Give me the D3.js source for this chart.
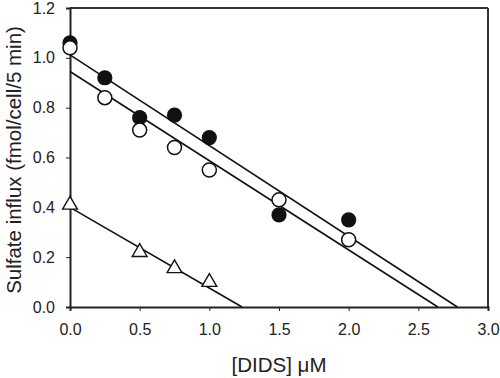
<!DOCTYPE html>
<html>
<head>
<meta charset="utf-8">
<script src="https://cdn.jsdelivr.net/npm/d3@7"></script>
<style>
  body { margin: 0; background: #fff; }
  text { font-family: "Liberation Sans", Arial, sans-serif; fill: #222; }
</style>
</head>
<body>
<svg width="500" height="378"></svg>
<script>
// data
const doses = [0, 0.25, 0.5, 0.75, 1.0, 1.5, 2.0];
const filledVals = [1.06, 0.92, 0.76, 0.77, 0.68, 0.37, 0.35];
const openVals = [1.04, 0.84, 0.71, 0.64, 0.55, 0.43, 0.27];
const triDoses = [0, 0.5, 0.75, 1.0];
const triVals = [0.41, 0.22, 0.155, 0.10];

// fitted lines: [x start, y start, x end, y end]
const filledFit = [0, 1.012, 2.78, 0];
const openFit = [0, 0.945, 2.64, 0];
const triFit = [0, 0.40, 1.235, 0];

const xTicks = [0, 0.5, 1.0, 1.5, 2.0, 2.5, 3.0];
const yTicks = [0, 0.2, 0.4, 0.6, 0.8, 1.0, 1.2];

const margin = { top: 8, right: 12, bottom: 71, left: 70 },
  width = 500 - margin.left - margin.right,
  height = 378 - margin.top - margin.bottom;

const svg = d3.select('svg');
const g = svg.append('g')
  .attr('transform', `translate(${margin.left},${margin.top})`);

const x = d3.scaleLinear().domain([0, 3]).range([0, width]);
const y = d3.scaleLinear().domain([0, 1.2]).range([height, 0]);

// frame top + right
g.append('line')
  .attr('x1', 0).attr('x2', width).attr('y1', 0).attr('y2', 0)
  .attr('stroke', '#333').attr('stroke-width', 2);
g.append('line')
  .attr('x1', width).attr('x2', width).attr('y1', 0).attr('y2', height)
  .attr('stroke', '#333').attr('stroke-width', 2);

const xAxis = g.append('g')
  .attr('transform', `translate(0,${height})`)
  .call(d3.axisBottom(x).tickValues(xTicks).tickFormat(d3.format('.1f')).tickSize(4).tickPadding(13));
const yAxis = g.append('g')
  .call(d3.axisLeft(y).tickValues(yTicks).tickFormat(d3.format('.1f')).tickSize(4).tickPadding(11));

[xAxis, yAxis].forEach(a => {
  a.select('.domain').attr('stroke', '#222').attr('stroke-width', 2);
  a.selectAll('.tick line').attr('stroke', '#222').attr('stroke-width', 1);
  a.selectAll('.tick text')
    .attr('font-size', 16)
    .attr('font-family', '"Liberation Sans", Arial, sans-serif')
    .attr('fill', '#222');
});

// fit lines
[filledFit, openFit, triFit].forEach(f => {
  g.append('line')
    .attr('x1', x(f[0])).attr('y1', y(f[1]))
    .attr('x2', x(f[2])).attr('y2', y(f[3]))
    .attr('stroke', '#111').attr('stroke-width', 1.6);
});

// filled circles
g.selectAll('.filled')
  .data(doses.map((d, i) => [d, filledVals[i]]))
  .enter().append('circle')
  .attr('class', 'filled')
  .attr('cx', d => x(d[0]))
  .attr('cy', d => y(d[1]))
  .attr('r', 7.6)
  .attr('fill', '#111');

// open circles
g.selectAll('.open')
  .data(doses.map((d, i) => [d, openVals[i]]))
  .enter().append('circle')
  .attr('class', 'open')
  .attr('cx', d => x(d[0]))
  .attr('cy', d => y(d[1]))
  .attr('r', 7)
  .attr('fill', '#fff')
  .attr('stroke', '#111')
  .attr('stroke-width', 1.5);

// triangles
const tri = d3.symbol().type(d3.symbolTriangle).size(95);
g.selectAll('.tri')
  .data(triDoses.map((d, i) => [d, triVals[i]]))
  .enter().append('path')
  .attr('class', 'tri')
  .attr('d', tri)
  .attr('transform', d => `translate(${x(d[0])},${y(d[1])})`)
  .attr('fill', '#fff')
  .attr('stroke', '#111')
  .attr('stroke-width', 1.4);

// axis titles
svg.append('text')
  .attr('x', 279)
  .attr('y', 372)
  .attr('text-anchor', 'middle')
  .attr('font-size', 20.5)
  .text('[DIDS] \u03BCM');

svg.append('text')
  .attr('transform', `translate(21,160) rotate(-90)`)
  .attr('text-anchor', 'middle')
  .attr('font-size', 20.5)
  .text('Sulfate influx (fmol/cell/5 min)');
</script>
</body>
</html>
